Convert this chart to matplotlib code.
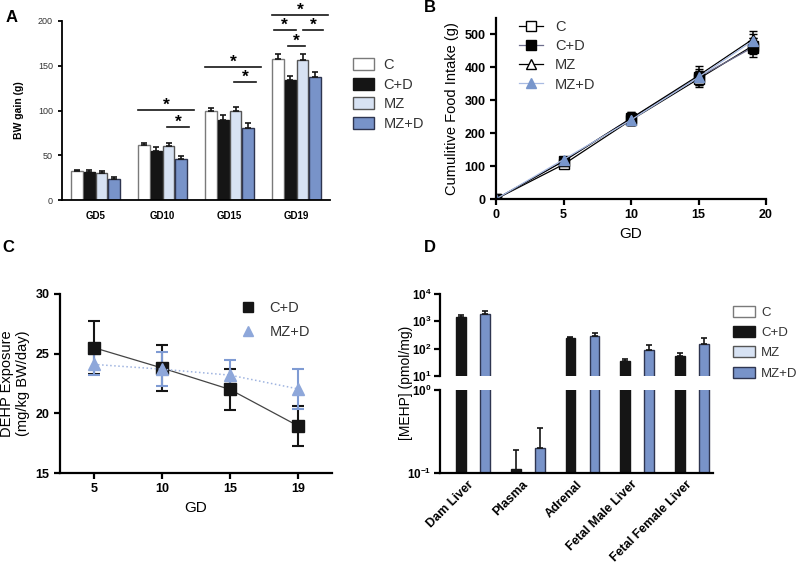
import numpy as np
import matplotlib
matplotlib.use("Agg")
import matplotlib.pyplot as plt
from matplotlib.patches import Patch
from matplotlib.lines import Line2D

plt.rcParams['font.family'] = ['Liberation Sans', 'DejaVu Sans']
plt.rcParams['mathtext.fontset'] = 'custom'
plt.rcParams['mathtext.rm'] = 'Liberation Sans'
plt.rcParams['mathtext.bf'] = 'Liberation Sans:bold'

# groups / colours
groups = ['C', 'C+D', 'MZ', 'MZ+D']
fills = ['white', '#151515', '#d7e2f3', '#7893c9']
edges = ['#7a7a7a', '#151515', '#555555', '#2e3550']

# Panel A: BW gain
gd_labels = ['GD5', 'GD10', 'GD15', 'GD19']
bw_c = [32, 62, 99, 158]
bw_cd = [31, 55, 89, 134]
bw_mz = [30, 60, 99, 156]
bw_mzd = [24, 46, 80, 137]
bw_c_err = [2, 2, 4, 5]
bw_cd_err = [3, 4, 6, 4]
bw_mz_err = [2.5, 4, 5, 7]
bw_mzd_err = [1.5, 3, 6, 6]
# significance bars: (group, from, to, height)
sig = [(1, -0.37, 0.47, 101), (1, 0.07, 0.40, 82),
       (2, -0.37, 0.47, 149), (2, 0.07, 0.40, 132),
       (3, -0.36, 0.47, 207), (3, -0.34, -0.01, 190),
       (3, 0.09, 0.40, 190), (3, -0.13, 0.12, 172)]

# Panel B: cumulative food intake
fi_days = [0, 5, 10, 15, 19]
fi_c = [0, 105, 240, 365, 465]
fi_cd = [0, 115, 245, 370, 460]
fi_mz = [0, 115, 245, 375, 485]
fi_mzd = [0, 120, 240, 370, 480]
fi_c_err = [0, 10, 15, 25, 25]
fi_cd_err = [0, 10, 20, 25, 30]
fi_mz_err = [0, 10, 20, 30, 25]
fi_mzd_err = [0, 8, 15, 20, 20]

# Panel C: DEHP exposure
ex_days = ['5', '10', '15', '19']
ex_cd = [25.5, 23.8, 22.0, 18.95]
ex_cd_err = [2.2, 1.95, 1.7, 1.7]
ex_mzd = [24.1, 23.7, 23.2, 22.05]
ex_mzd_err = [0.9, 1.4, 1.3, 1.7]

# Panel D: MEHP
tissues = ['Dam Liver', 'Plasma', 'Adrenal', 'Fetal Male Liver', 'Fetal Female Liver']
me_cd = [1400, 0.11, 245, 35, 56]
me_cd_top = [1700, 0.19, 275, 42, 70]
me_mzd = [1850, 0.20, 290, 90, 150]
me_mzd_top = [2300, 0.35, 390, 138, 240]

fig = plt.figure(figsize=(8, 5.73), dpi=100)
W, H = 800, 573


def px_axes(l, t, r, b):
    return fig.add_axes([l / W, 1 - b / H, (r - l) / W, (b - t) / H])


def style(ax, lw=1.6):
    for s in ['top', 'right']:
        ax.spines[s].set_visible(False)
    for s in ['left', 'bottom']:
        ax.spines[s].set_linewidth(lw)
    ax.tick_params(width=lw, length=4, color='black')


# ---------------- A ----------------
axA = px_axes(62, 21, 330, 200)
style(axA, 1.3)
w = 0.185
offs = (np.arange(4) - 1.5) * w
xg = np.arange(4)
for k, (vals, errs) in enumerate(zip([bw_c, bw_cd, bw_mz, bw_mzd],
                                     [bw_c_err, bw_cd_err, bw_mz_err, bw_mzd_err])):
    axA.bar(xg + offs[k], vals, w * 0.92, color=fills[k], edgecolor=edges[k], lw=1)
    axA.errorbar(xg + offs[k], vals, yerr=[np.zeros(4), errs], fmt='none',
                 ecolor='#151515', elinewidth=1.2, capsize=2.5, capthick=1.2)
for g, a, b, y in sig:
    axA.plot([g + a, g + b], [y, y], color='#151515', lw=1.2, clip_on=False)
    axA.text(g + (a + b) / 2, y, '*', ha='center', va='baseline', fontsize=12.5,
             fontweight='bold', clip_on=False)
axA.set_xlim(-0.5, 3.5)
axA.set_ylim(0, 200)
axA.set_yticks([0, 50, 100, 150, 200])
axA.set_xticks(xg)
axA.set_xticklabels(gd_labels, fontsize=7, fontweight='bold')
axA.tick_params(axis='x', length=0, pad=8)
axA.tick_params(axis='y', labelsize=6.5, labelcolor='#333333', length=3)
axA.set_ylabel('BW gain (g)', fontsize=7.5, fontweight='bold', labelpad=10)
fig.legend([Patch(facecolor=fills[k], edgecolor=edges[k]) for k in range(4)], groups,
           loc='upper left', bbox_to_anchor=(340 / W, 1 - 45 / H), frameon=False,
           fontsize=10.5, handlelength=1.4, handleheight=0.9, labelspacing=0.38,
           handletextpad=0.7, labelcolor='#333333')

# ---------------- B ----------------
axB = px_axes(496, 18, 766, 199)
style(axB)
specB = [
    ('black', dict(marker='s', mfc='white', mec='black')),
    ('#6d6d8c', dict(marker='s', mfc='black', mec='black')),
    ('black', dict(marker='^', mfc='white', mec='black')),
    ('#a9bbe2', dict(marker='^', mfc='#7896cc', mec='#7896cc')),
]
handB = []
for (lc, mk), vals, errs in zip(specB, [fi_c, fi_cd, fi_mz, fi_mzd],
                                [fi_c_err, fi_cd_err, fi_mz_err, fi_mzd_err]):
    axB.errorbar(fi_days, vals, yerr=errs, color=lc, lw=0.9, ms=7, ecolor='black',
                 elinewidth=1.1, capsize=3, **mk)
    handB.append(Line2D([], [], color=lc, lw=0.9, ms=7, **mk))
axB.set_xlim(0, 20)
axB.set_ylim(0, 550)
axB.set_xticks([0, 5, 10, 15, 20])
axB.set_yticks([0, 100, 200, 300, 400, 500])
for t in axB.get_xticklabels() + axB.get_yticklabels():
    t.set_fontweight('bold')
    t.set_fontsize(9)
axB.set_xlabel('GD', fontsize=11)
axB.set_ylabel('Cumulitive Food Intake (g)', fontsize=10.5)
axB.legend(handB, groups, loc='upper left', bbox_to_anchor=(0.035, 1.06), frameon=False,
           fontsize=10.5, handlelength=1.7, labelspacing=0.35, handletextpad=0.8,
           labelcolor='#333333')

# ---------------- C ----------------
axC = px_axes(60, 294, 332, 473)
style(axC)
xc = np.arange(4)
axC.errorbar(xc, ex_cd, yerr=ex_cd_err, color='#444444', lw=0.9, marker='s', ms=9,
             mfc='#151515', mec='#151515', ecolor='#151515', elinewidth=1.5,
             capsize=4, capthick=1.5)
axC.errorbar(xc, ex_mzd, yerr=ex_mzd_err, color='#9fb4e0', lw=1.1, ls=':', marker='^',
             ms=9, mfc='#8ea7da', mec='#8ea7da', ecolor='#7f9bd3', elinewidth=1.5,
             capsize=4, capthick=1.5)
axC.set_xlim(-0.5, 3.5)
axC.set_ylim(15, 30)
axC.set_yticks([15, 20, 25, 30])
axC.set_xticks(xc)
axC.set_xticklabels(ex_days)
for t in axC.get_xticklabels() + axC.get_yticklabels():
    t.set_fontweight('bold')
    t.set_fontsize(9)
axC.set_xlabel('GD', fontsize=11)
axC.set_ylabel('DEHP Exposure\n(mg/kg BW/day)', fontsize=10.5)
legC = [Line2D([], [], ls='none', marker='s', ms=7, color='#151515'),
        Line2D([], [], ls='none', marker='^', ms=7, color='#8ea7da')]
axC.legend(legC, ['C+D', 'MZ+D'], loc='upper left', bbox_to_anchor=(0.61, 1.035),
           frameon=False, fontsize=10.5, handlelength=1.2, labelspacing=0.7,
           handletextpad=0.9, labelcolor='#333333')

# ---------------- D ----------------
axDu = px_axes(440, 294, 713, 376)
axDl = px_axes(440, 390, 713, 473)
xd = np.arange(len(tissues))
slot = 0.22
cd_err = [np.zeros(5), np.array(me_cd_top) - np.array(me_cd)]
mzd_err = [np.zeros(5), np.array(me_mzd_top) - np.array(me_mzd)]
for ax in (axDu, axDl):
    ax.set_yscale('log')
    style(ax)
    ax.minorticks_off()
    ax.bar(xd - 0.5 * slot, me_cd, 0.18, bottom=1e-3,
           color=fills[1], edgecolor=edges[1], lw=1)
    ax.bar(xd + 1.5 * slot, me_mzd, 0.18, bottom=1e-3,
           color=fills[3], edgecolor=edges[3], lw=1)
    ax.errorbar(xd - 0.5 * slot, me_cd, yerr=cd_err, fmt='none', ecolor='#151515',
                elinewidth=1.2, capsize=2.5, capthick=1.2)
    ax.errorbar(xd + 1.5 * slot, me_mzd, yerr=mzd_err, fmt='none', ecolor='#151515',
                elinewidth=1.2, capsize=2.5, capthick=1.2)
    ax.set_xlim(-0.5, 4.5)
    ax.tick_params(axis='y', pad=2)
axDu.set_ylim(10, 1e4)
axDu.set_yticks([10, 100, 1000, 10000])
axDu.set_yticklabels([r'$\mathbf{10^{1}}$', r'$\mathbf{10^{2}}$', r'$\mathbf{10^{3}}$',
                      r'$\mathbf{10^{4}}$'], fontsize=8.5)
axDu.spines['bottom'].set_visible(False)
axDu.set_xticks([])
axDl.set_ylim(0.1, 1)
axDl.set_yticks([0.1, 1])
axDl.set_yticklabels([r'$\mathbf{10^{-1}}$', r'$\mathbf{10^{0}}$'], fontsize=8.5)
axDl.set_xticks(xd)
axDl.set_xticklabels(tissues, rotation=45, ha='right', rotation_mode='anchor',
                     fontsize=9, fontweight='bold')
axDl.tick_params(axis='x', length=0, pad=4)
fig.text(406 / W, 1 - 383 / H, '[MEHP] (pmol/mg)', rotation=90, ha='center',
         va='center', fontsize=10)
fig.legend([Patch(facecolor=fills[k], edgecolor=edges[k]) for k in range(4)], groups,
           loc='upper left', bbox_to_anchor=(721 / W, 1 - 294 / H), frameon=False,
           fontsize=9.5, handlelength=1.7, handleheight=0.9, labelspacing=0.55,
           handletextpad=0.45, labelcolor='#333333')

# panel letters
for s, x, y in [('A', 12, 18), ('B', 430, 8), ('C', 8, 247), ('D', 430, 247)]:
    fig.text(x / W, 1 - y / H, s, fontsize=12, fontweight='bold', ha='center', va='center')

fig.savefig('out.png', dpi=100)
